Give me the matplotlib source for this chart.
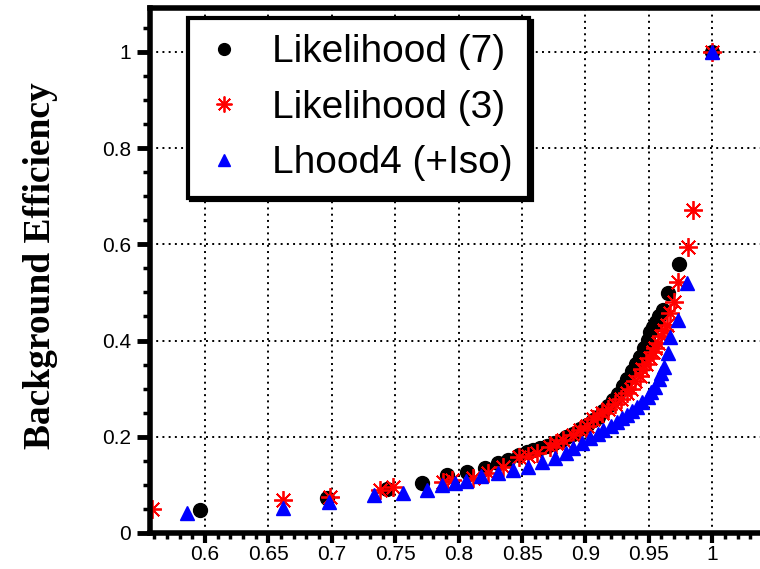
import matplotlib
matplotlib.use("Agg")
import matplotlib.pyplot as plt
import matplotlib.ticker as ticker

# ---------------------------------------------------------------------------
# Data
# ---------------------------------------------------------------------------
lh7_sig = [0.596, 0.696, 0.7435, 0.771, 0.791, 0.807, 0.821, 0.831, 0.839,
           0.848, 0.854, 0.859, 0.864, 0.870, 0.875, 0.880, 0.885, 0.890,
           0.896, 0.901, 0.906, 0.910, 0.914, 0.918, 0.922, 0.926, 0.930,
           0.933, 0.937, 0.940, 0.943, 0.946, 0.949, 0.951, 0.953, 0.956,
           0.958, 0.961, 0.965, 0.9735, 1.0]
lh7_bkg = [0.048, 0.073, 0.091, 0.104, 0.121, 0.127, 0.135, 0.145, 0.152,
           0.162, 0.168, 0.173, 0.177, 0.181, 0.188, 0.192, 0.200, 0.206,
           0.216, 0.224, 0.234, 0.242, 0.254, 0.264, 0.276, 0.288, 0.305,
           0.320, 0.336, 0.352, 0.366, 0.385, 0.402, 0.418, 0.428, 0.439,
           0.450, 0.464, 0.499, 0.560, 1.0]

lh3_sig = [0.558, 0.6615, 0.6985, 0.738, 0.748, 0.788, 0.795, 0.811, 0.823,
           0.835, 0.848, 0.855, 0.862, 0.872, 0.877, 0.882, 0.890, 0.896,
           0.901, 0.906, 0.909, 0.913, 0.918, 0.923, 0.928, 0.933, 0.936,
           0.939, 0.943, 0.945, 0.948, 0.951, 0.953, 0.955, 0.957, 0.960,
           0.962, 0.964, 0.967, 0.970, 0.973, 0.981, 0.985, 1.0]
lh3_bkg = [0.050, 0.069, 0.075, 0.089, 0.096, 0.106, 0.110, 0.114, 0.125,
           0.138, 0.158, 0.160, 0.166, 0.179, 0.186, 0.193, 0.204, 0.214,
           0.222, 0.236, 0.243, 0.250, 0.258, 0.268, 0.278, 0.290, 0.300,
           0.315, 0.326, 0.340, 0.352, 0.364, 0.376, 0.385, 0.395, 0.410,
           0.422, 0.432, 0.457, 0.480, 0.522, 0.594, 0.671, 1.0]

lh4_sig = [0.586, 0.6615, 0.698, 0.733, 0.756, 0.775, 0.787, 0.797, 0.806,
           0.818, 0.831, 0.843, 0.855, 0.866, 0.876, 0.885, 0.890, 0.897,
           0.904, 0.910, 0.914, 0.920, 0.925, 0.929, 0.933, 0.937, 0.941,
           0.945, 0.949, 0.952, 0.955, 0.958, 0.960, 0.962, 0.965, 0.967,
           0.973, 0.980, 1.0]
lh4_bkg = [0.042, 0.052, 0.064, 0.079, 0.083, 0.089, 0.100, 0.104, 0.108,
           0.118, 0.124, 0.130, 0.138, 0.148, 0.156, 0.166, 0.176, 0.188,
           0.198, 0.205, 0.214, 0.222, 0.231, 0.238, 0.245, 0.254, 0.262,
           0.272, 0.283, 0.294, 0.304, 0.320, 0.333, 0.345, 0.374, 0.408,
           0.443, 0.520, 1.0]

labels = ["Likelihood (7)", "Likelihood (3)", "Lhood4 (+Iso)"]

# ---------------------------------------------------------------------------
# Plot
# ---------------------------------------------------------------------------
plt.rcParams["font.family"] = ["Liberation Sans", "DejaVu Sans"]

fig = plt.figure(figsize=(7.6, 5.69), dpi=100)
ax = fig.add_axes([150 / 760, 36 / 569, 610 / 760, 525 / 569])

ax.plot(lh7_sig, lh7_bkg, ls="none", marker="o", ms=10, color="black",
        label=labels[0])
ax.plot(lh3_sig, lh3_bkg, ls="none", marker=(8, 2, 0), ms=13.5, mew=1.3,
        color="red", label=labels[1])
ax.plot(lh4_sig, lh4_bkg, ls="none", marker="^", ms=10, color="blue",
        mec="blue", label=labels[2])

ax.set_xlim(0.5566, 1.0377)
ax.set_ylim(0, 1.091)

ax.xaxis.set_major_locator(ticker.MultipleLocator(0.05))
ax.xaxis.set_minor_locator(ticker.MultipleLocator(0.01))
ax.yaxis.set_major_locator(ticker.MultipleLocator(0.2))
ax.yaxis.set_minor_locator(ticker.MultipleLocator(0.05))
ax.xaxis.set_major_formatter(ticker.FormatStrFormatter("%g"))
ax.yaxis.set_major_formatter(ticker.FormatStrFormatter("%g"))

ax.tick_params(which="both", direction="out", top=False, right=False,
               labelsize=15)
ax.tick_params(axis="y", which="major", length=9.5, width=3.5, pad=4)
ax.tick_params(axis="y", which="minor", length=5, width=2.5)
ax.tick_params(axis="x", which="major", length=7, width=3, pad=2)
ax.tick_params(axis="x", which="minor", length=4, width=2.5)

for side in ("left", "bottom", "top"):
    ax.spines[side].set_linewidth(4)
ax.spines["right"].set_visible(False)

ax.grid(True, which="major", color="black", lw=1.4, ls=(0, (1, 2.2)))
ax.set_axisbelow(True)

leg = ax.legend(loc="upper left", bbox_to_anchor=(188 / 760, 1 - 18 / 569),
                bbox_transform=fig.transFigure, fontsize=28,
                frameon=True, fancybox=False, edgecolor="black",
                borderpad=0.42, handlelength=1.0, handletextpad=0.75,
                labelspacing=0.5, borderaxespad=0, markerscale=0.85,
                shadow={"facecolor": "black", "edgecolor": "black", "alpha": 1})
leg.get_frame().set_linewidth(3)
leg.get_frame().set_alpha(1)

fig.text(41 / 760, 1 - 266 / 569, "Background Efficiency", rotation=90,
         ha="center", va="center", fontsize=27, fontweight="bold",
         family="Liberation Serif")

fig.savefig("out.png", dpi=100)
